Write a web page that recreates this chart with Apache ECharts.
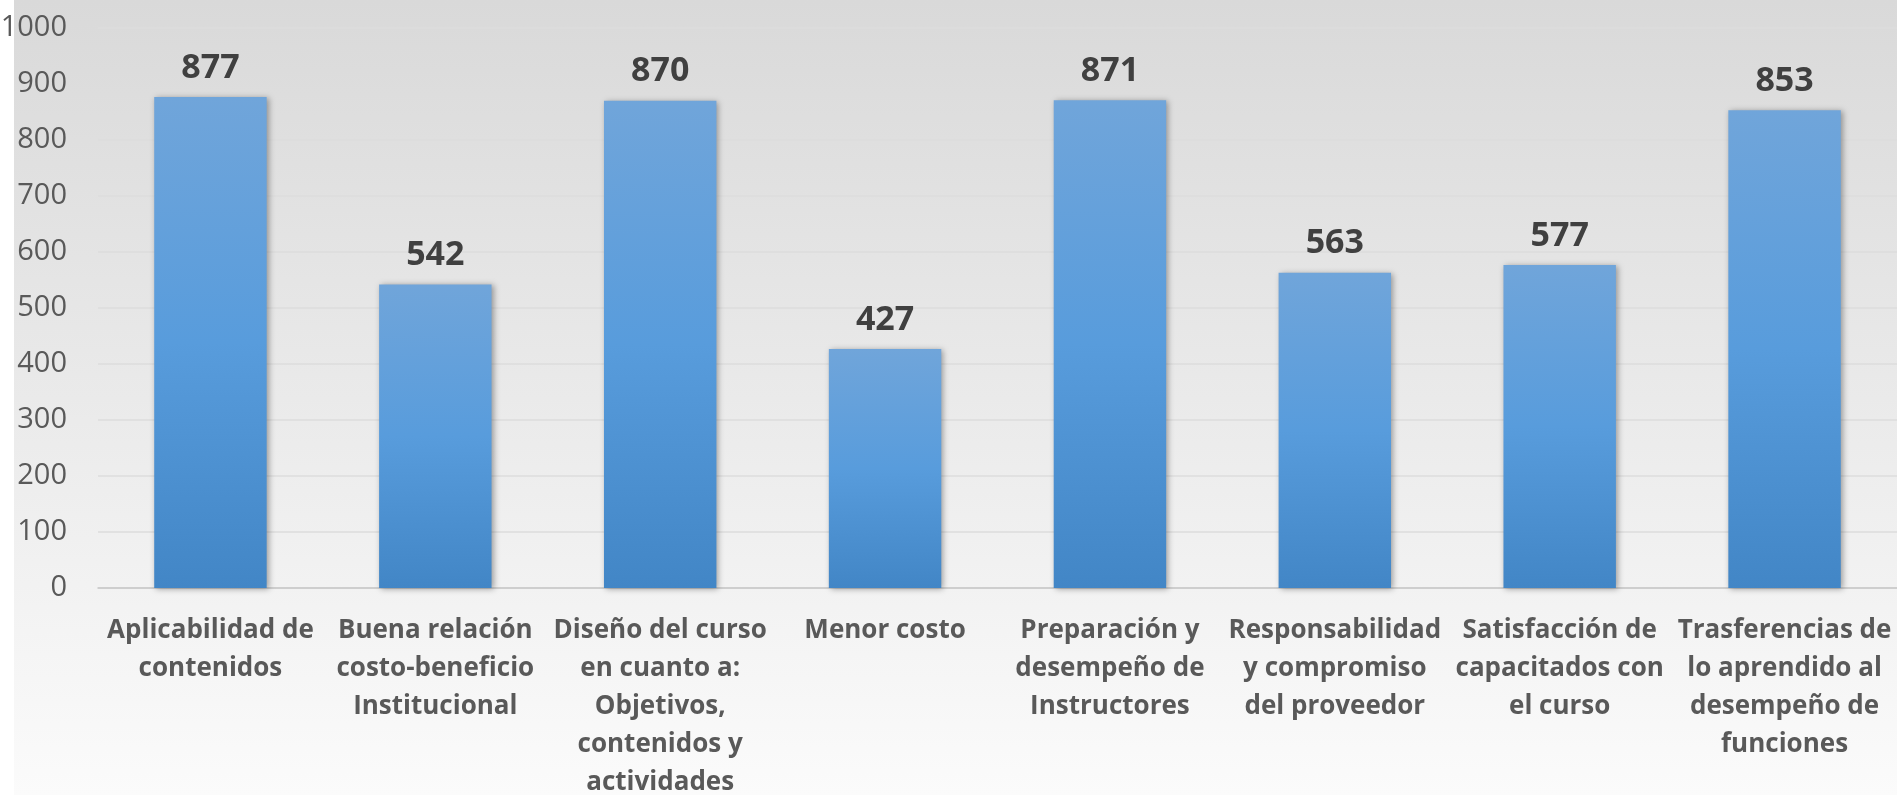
<!DOCTYPE html>
<html>
<head>
<meta charset="utf-8">
<style>
  html, body { margin: 0; padding: 0; background: #ffffff; }
  #chart { width: 1897px; height: 795px; }
</style>
<script src="https://cdn.jsdelivr.net/npm/echarts@6/dist/echarts.min.js"></script>
</head>
<body>
<div id="chart"></div>
<script>
var categories = [
    'Aplicabilidad de\ncontenidos',
    'Buena relación\ncosto-beneficio\nInstitucional',
    'Diseño del curso\nen cuanto a:\nObjetivos,\ncontenidos y\nactividades',
    'Menor costo',
    'Preparación y\ndesempeño de\nInstructores',
    'Responsabilidad\ny compromiso\ndel proveedor',
    'Satisfacción de\ncapacitados con\nel curso',
    'Trasferencias de\nlo aprendido al\ndesempeño de\nfunciones'
];
var values = [877, 542, 870, 427, 871, 563, 577, 853];

var yMin = 0;
var yMax = 1000;
var yStep = 100;

var myChart = echarts.init(document.getElementById('chart'), null, {
    renderer: 'canvas'
});

var option = {
    animation: false,
    graphic: [{
        type: 'rect',
        z: -10,
        shape: { x: 14, y: 0, width: 1883, height: 795 },
        style: {
            fill: new echarts.graphic.LinearGradient(0, 0, 0, 1, [
                { offset: 0, color: '#d9d9d9' },
                { offset: 1, color: '#fbfbfb' }
            ])
        }
    }],
    grid: {
        left: 98,
        right: 0,
        top: 28,
        bottom: 207,
        containLabel: false,
        outerBoundsMode: 'none'
    },
    xAxis: {
        type: 'category',
        data: categories,
        axisTick: { show: false },
        axisLine: { lineStyle: { color: '#c8c8c8', width: 1.5 } },
        axisLabel: {
            interval: 0,
            margin: 24,
            color: '#595959',
            fontFamily: 'Open Sans',
            fontWeight: 'bold',
            fontSize: 26,
            lineHeight: 38,
            align: 'center'
        }
    },
    yAxis: {
        type: 'value',
        min: yMin,
        max: yMax,
        interval: yStep,
        axisLine: { show: false },
        axisTick: { show: false },
        splitLine: { lineStyle: { color: '#dcdcdc', width: 1.5 } },
        axisLabel: {
            margin: 31,
            color: '#595959',
            fontFamily: 'Open Sans',
            fontSize: 29,
            formatter: function (v) { return String(v); }
        }
    },
    series: [{
        type: 'bar',
        data: values,
        barWidth: '50%',
        itemStyle: {
            color: new echarts.graphic.LinearGradient(0, 0, 0, 1, [
                { offset: 0, color: '#70a5da' },
                { offset: 0.5, color: '#589cdc' },
                { offset: 1, color: '#4286c6' }
            ]),
            shadowBlur: 6,
            shadowColor: 'rgba(0,0,0,0.35)',
            shadowOffsetX: 2,
            shadowOffsetY: 1
        },
        label: {
            show: true,
            position: 'top',
            distance: 12,
            color: '#404040',
            fontFamily: 'Open Sans',
            fontWeight: 'bold',
            fontSize: 34
        }
    }]
};

if (option && typeof option === 'object') {
    myChart.setOption(option);
}

window.addEventListener('resize', myChart.resize);
</script>
</body>
</html>
